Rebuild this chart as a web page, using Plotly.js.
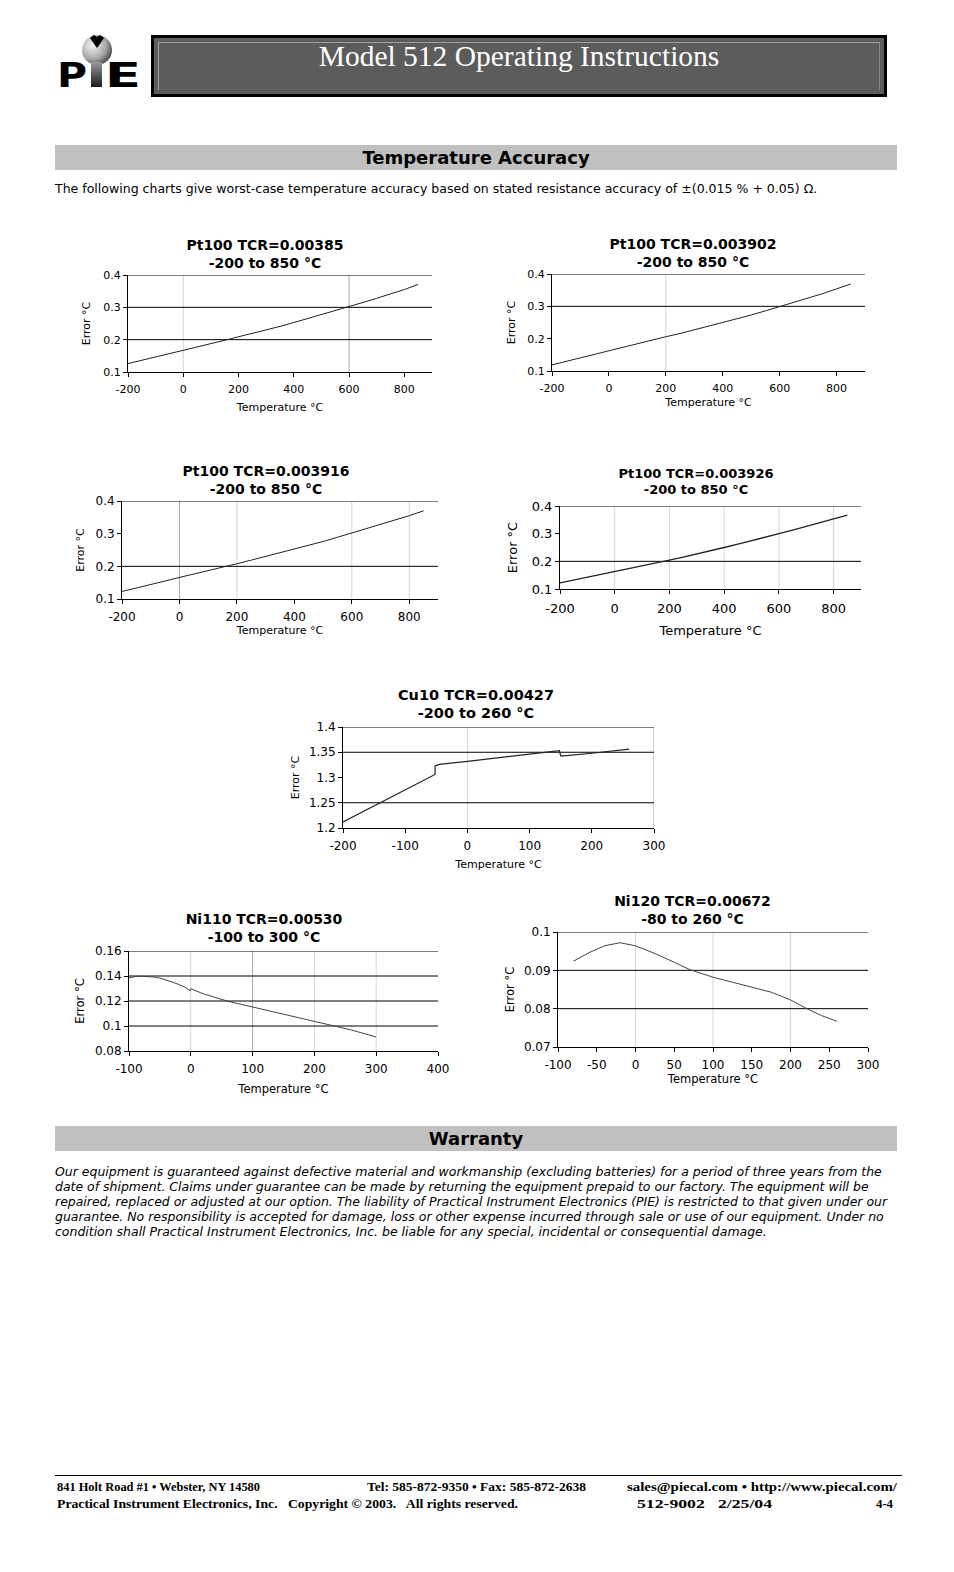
<!DOCTYPE html>
<html><head><meta charset="utf-8">
<script src="https://cdn.plot.ly/plotly-3.0.1.min.js"></script>
<style>
body{margin:0;width:954px;height:1572px;position:relative;background:#fff;font-family:"DejaVu Sans",Verdana,sans-serif;color:#000;overflow:hidden;}
.abs{position:absolute;}
.bar{position:absolute;left:55px;width:842px;height:25px;background:#c0c0c0;text-align:center;font-weight:bold;font-size:18px;line-height:25px;}
.ft{position:absolute;font-family:"Liberation Serif","Times New Roman",serif;font-weight:bold;font-size:12px;line-height:14px;white-space:nowrap;transform-origin:0 50%;}
</style></head><body>

<svg class="abs" style="left:50px;top:30px" width="100" height="72">
 <defs>
  <radialGradient id="gs" cx="0.35" cy="0.35" r="0.75"><stop offset="0" stop-color="#f4f4f4"/><stop offset="0.6" stop-color="#a8a8a8"/><stop offset="1" stop-color="#3a3a3a"/></radialGradient>
  <linearGradient id="gi" x1="0" y1="0" x2="0" y2="1"><stop offset="0" stop-color="#9a9a9a"/><stop offset="1" stop-color="#1a1a1a"/></linearGradient>
 </defs>
 <circle cx="47" cy="20" r="15" fill="url(#gs)"/>
 <path d="M40 8 L44 5 L47 7 L50 5 L54 8 L47 18 Z" fill="#000"/>
 <rect x="41" y="32" width="11" height="25" fill="url(#gi)"/>
 <text x="7" y="57" font-family="DejaVu Sans" font-weight="bold" font-size="34" textLength="30" lengthAdjust="spacingAndGlyphs">P</text>
 <text x="55" y="57" font-family="DejaVu Sans" font-weight="bold" font-size="34" textLength="36" lengthAdjust="spacingAndGlyphs">E</text>
</svg>

<div class="abs" style="left:151px;top:35px;width:736px;height:62px;box-sizing:border-box;border:3px solid #000;background:#5c5c5c;">
 <div class="abs" style="left:4px;top:4px;right:4px;bottom:4px;border-top:1px solid #a0a0a0;border-left:1px solid #a0a0a0;border-right:1px solid #8a8a8a;"></div>
</div>
<div class="abs" style="left:151px;width:736px;top:42px;text-align:center;font-family:'Liberation Serif','Times New Roman',serif;font-size:29.5px;line-height:29.5px;color:#fff;white-space:nowrap;">Model 512 Operating Instructions</div>

<div class="bar" style="top:145px;">Temperature Accuracy</div>
<div id="intro" class="abs" style="left:55px;top:181px;font-size:12px;line-height:15px;white-space:nowrap;">The following charts give worst-case temperature accuracy based on stated resistance accuracy of ±(0.015 % + 0.05) Ω.</div>

<div class="bar" style="top:1126px;">Warranty</div>
<div id="warr" class="abs" style="left:55px;top:1164px;font-size:12px;line-height:15px;font-style:italic;white-space:nowrap;"><span id="w1">Our equipment is guaranteed against defective material and workmanship (excluding batteries) for a period of three years from the</span><br>date of shipment. Claims under guarantee can be made by returning the equipment prepaid to our factory. The equipment will be<br>repaired, replaced or adjusted at our option. The liability of Practical Instrument Electronics (PIE) is restricted to that given under our<br>guarantee. No responsibility is accepted for damage, loss or other expense incurred through sale or use of our equipment. Under no<br>condition shall Practical Instrument Electronics, Inc. be liable for any special, incidental or consequential damage.</div>

<div class="abs" style="left:55px;top:1475px;width:847px;height:0;border-top:1.5px solid #000;"></div>
<div class="ft" data-w="203" style="left:57px;top:1480px;">841 Holt Road #1 • Webster, NY 14580</div>
<div class="ft" data-w="219" style="left:367px;top:1480px;">Tel: 585-872-9350 • Fax: 585-872-2638</div>
<div class="ft" data-w="270" style="left:627px;top:1480px;">sales@piecal.com • http://www.piecal.com/</div>
<div class="ft" data-w="461" style="left:57px;top:1497px;">Practical Instrument Electronics, Inc.&nbsp;&nbsp; Copyright © 2003.&nbsp;&nbsp; All rights reserved.</div>
<div class="ft" data-w="135" style="left:637px;top:1497px;">512-9002&nbsp;&nbsp; 2/25/04</div>
<div class="ft" data-w="17" style="left:876px;top:1497px;">4-4</div>

<script>
// ---- data ----
const ptTemp = [-200,-150,-100,-50,0,50,100,150,200,250,300,350,400,450,500,550,600,650,700,750,800,850];
const pt385  = [0.126,0.136,0.146,0.156,0.167,0.177,0.187,0.198,0.209,0.219,0.230,0.241,0.253,0.265,0.277,0.289,0.302,0.315,0.328,0.341,0.355,0.371];
const pt3902 = [0.119,0.130,0.141,0.153,0.164,0.174,0.185,0.195,0.206,0.216,0.227,0.238,0.249,0.261,0.273,0.286,0.299,0.312,0.325,0.339,0.354,0.369];
const pt3916 = [0.123,0.133,0.144,0.155,0.166,0.176,0.187,0.197,0.208,0.219,0.230,0.241,0.252,0.264,0.276,0.289,0.302,0.315,0.328,0.341,0.355,0.370];
const pt3926 = [0.122,0.132,0.142,0.152,0.163,0.173,0.183,0.193,0.204,0.215,0.226,0.238,0.250,0.262,0.274,0.287,0.300,0.313,0.326,0.340,0.354,0.367];
const cuTemp = [-200,-150,-100,-52,-52,-45,0,50,100,148,150,155,200,260];
const cuErr  = [1.212,1.244,1.276,1.306,1.323,1.326,1.332,1.339,1.346,1.353,1.343,1.343,1.348,1.356];
const ni110Temp = [-100,-90,-80,-70,-60,-50,-40,-30,-20,-10,-1,0,20,40,60,100,150,200,230,260,300];
const ni110Err  = [0.1385,0.1395,0.1398,0.1397,0.1392,0.1383,0.137,0.1352,0.1333,0.1312,0.1282,0.1298,0.1258,0.1226,0.1198,0.1152,0.1095,0.1038,0.1003,0.0968,0.0912];
const ni120Temp = [-80,-60,-40,-20,0,25,50,70,100,125,150,175,200,220,240,260];
const ni120Err  = [0.0924,0.0946,0.0964,0.0972,0.0964,0.0944,0.0921,0.0902,0.0882,0.0869,0.0857,0.0843,0.0823,0.0801,0.0782,0.0767];
const chartTitles = ['Pt100 TCR=0.00385','Pt100 TCR=0.003902','Pt100 TCR=0.003916','Pt100 TCR=0.003926','Cu10 TCR=0.00427','Ni110 TCR=0.00530','Ni120 TCR=0.00672'];
const chartRanges = ['-200 to 850 °C','-200 to 850 °C','-200 to 850 °C','-200 to 850 °C','-200 to 260 °C','-100 to 300 °C','-80 to 260 °C'];
const xLabel = 'Temperature °C';
const yLabel = 'Error °C';

// ---- text fitting for page text ----
(function(){
  const intro=document.getElementById('intro');
  intro.style.fontSize=(12*763/intro.getBoundingClientRect().width)+'px';
  const w1=document.getElementById('w1');
  document.getElementById('warr').style.fontSize=(12*828/w1.getBoundingClientRect().width)+'px';
  document.querySelectorAll('.ft').forEach(el=>{
    const t=+el.dataset.w, cur=el.getBoundingClientRect().width;
    el.style.transform='scaleX('+(t/cur)+')';
  });
})();

const LG = '#d6d6d6', DG = '#a6a6a6';
const charts = [
 {x:ptTemp,y:pt385, box:[128,432,275,372], xr:[-200,900],xd:200, yr:[0.1,0.4],yd:0.1, hg:[0.2,0.3,0.4], vg:[[0,LG],[600,DG]], tc:[265,249.5], tf:14, tk:11, at:11, xs:8, ys:10, lw:1, lc:'#222'},
 {x:ptTemp,y:pt3902,box:[552,865,274,371], xr:[-200,900],xd:200, yr:[0.1,0.4],yd:0.1, hg:[0.3,0.4], vg:[[200,LG]], tc:[693,249], tf:14, tk:11, at:11, xs:4, ys:9, lw:1, lc:'#222'},
 {x:ptTemp,y:pt3916,box:[122,438,501,599], xr:[-200,900],xd:200, yr:[0.1,0.4],yd:0.1, hg:[0.2,0.4], vg:[[0,DG],[200,LG],[600,LG],[800,LG]], tc:[266,476], tf:14, tk:12, at:11, xs:1, ys:8, lw:1, lc:'#222'},
 {x:ptTemp,y:pt3926,box:[560,861,506,589], xr:[-200,900],xd:200, yr:[0.1,0.4],yd:0.1, hg:[0.2,0.4], vg:[[0,LG],[200,LG],[400,LG],[600,LG],[800,LG]], tc:[696,477.5], tf:13, tk:13, at:13, xs:11, ys:11, lw:1.3, lc:'#222'},
 {x:cuTemp,y:cuErr, box:[343,654,727,828], xr:[-200,300],xd:100, yr:[1.2,1.4],yd:0.05, hg:[1.25,1.35,1.4], vg:[[0,LG],[300,DG]], tc:[476,699.5], tf:14.5, tk:12, at:11, xs:7, ys:7, lw:1.2, lc:'#222'},
 {x:ni110Temp,y:ni110Err, box:[129,438,951,1051], xr:[-100,400],xd:100, yr:[0.08,0.16],yd:0.02, hg:[0.1,0.12,0.14,0.16], vg:[[0,LG],[100,DG],[200,LG],[300,LG]], tc:[264,924], tf:14, tk:12, at:11.5, xs:9, ys:7, lw:1, lc:'#444'},
 {x:ni120Temp,y:ni120Err, box:[558,868,932,1047], xr:[-100,300],xd:50, yr:[0.07,0.1],yd:0.01, hg:[0.08,0.09,0.1], vg:[[0,LG],[100,LG],[200,LG]], tc:[692.5,905.5], tf:14, tk:12, at:11.5, xs:0, ys:6, lw:1, lc:'#444'}
];

function ticks(r, d){
  const out=[]; const n=Math.round((r[1]-r[0])/d);
  for(let i=0;i<=n;i++){ out.push(Math.round((r[0]+i*d)*1e6)/1e6); }
  return out;
}

charts.forEach((c,i)=>{
  const ml=80, mr=30, mt=70, mb=60;
  const w=c.box[1]-c.box[0]+ml+mr, h=c.box[3]-c.box[2]+mt+mb;
  const left=c.box[0]-ml, top=c.box[2]-mt;
  const div=document.createElement('div');
  div.style.cssText='position:absolute;left:'+left+'px;top:'+top+'px;width:'+w+'px;height:'+h+'px;';
  document.body.appendChild(div);
  const shapes=[];
  c.vg.forEach(g=>shapes.push({type:'line',layer:'below',xref:'x',yref:'paper',x0:g[0],x1:g[0],y0:0,y1:1,line:{color:g[1],width:1}}));
  c.hg.forEach(v=>shapes.push({type:'line',layer:'below',xref:'paper',yref:'y',x0:0,x1:1,y0:v,y1:v,line:{color:'#000',width:1}}));
  const xt=ticks(c.xr,c.xd), yt=ticks(c.yr,c.yd);
  Plotly.newPlot(div,[{x:c.x,y:c.y,type:'scatter',mode:'lines',line:{color:c.lc,width:c.lw},hoverinfo:'skip'}],{
    width:w,height:h,margin:{l:ml,r:mr,t:mt,b:mb},
    paper_bgcolor:'rgba(0,0,0,0)',plot_bgcolor:'rgba(0,0,0,0)',showlegend:false,
    font:{family:'DejaVu Sans',color:'#000'},
    title:{text:chartTitles[i]+'<br>'+chartRanges[i],font:{family:'DejaVu Sans',size:c.tf,weight:'bold',color:'#000'},
      xref:'container',yref:'container',x:(c.tc[0]-left)/w,y:1-(c.tc[1]-top)/h,xanchor:'center',yanchor:'middle'},
    xaxis:{range:c.xr,tickvals:xt,ticktext:xt.map(String),ticks:'outside',ticklen:4,tickcolor:'#000',showline:true,linecolor:'#000',linewidth:1,
      ticklabelstandoff:3,showgrid:false,zeroline:false,tickfont:{size:c.tk,color:'#000'},title:{text:xLabel,font:{size:c.at,color:'#000'},standoff:c.xs}},
    yaxis:{range:c.yr,tickvals:yt,ticktext:yt.map(String),ticks:'outside',ticklen:4,tickcolor:'#000',showline:true,linecolor:'#000',linewidth:1,
      showgrid:false,zeroline:false,tickfont:{size:c.tk,color:'#000'},title:{text:yLabel,font:{size:c.at,color:'#000'},standoff:c.ys}},
    shapes:shapes
  },{staticPlot:true,displayModeBar:false});
});
</script>
</body></html>
